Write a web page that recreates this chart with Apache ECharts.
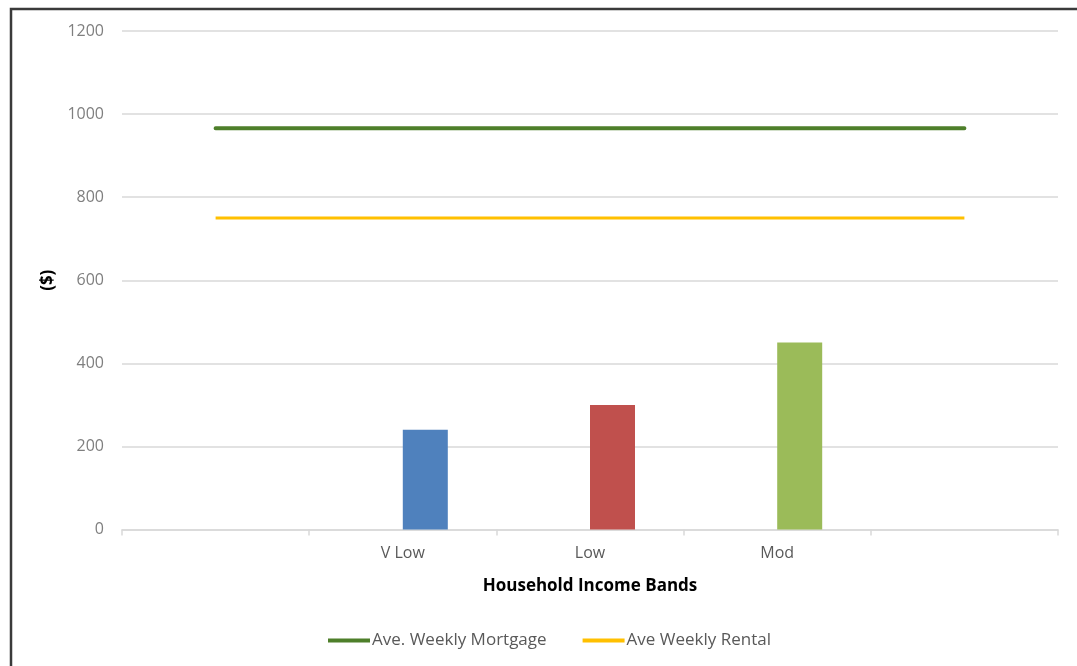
<!DOCTYPE html>
<html>
<head>
<meta charset="utf-8">
<script src="https://cdn.jsdelivr.net/npm/echarts@6/dist/echarts.min.js"></script>
<style>
html,body{margin:0;padding:0;background:#fff;}
#chart{width:1077px;height:666px;}
</style>
</head>
<body>
<div id="chart"></div>
<script>
const categories = ['', 'V Low', 'Low', 'Mod', ''];
const incomeValues = [null, 240, 300, 450, null];
const barColors = ['#4F81BD', '#4F81BD', '#C0504D', '#9BBB59', '#9BBB59'];
const mortgageValues = [966, 966, 966, 966, 966];
const rentalValues = [750, 750, 750, 750, 750];
const yTicks = { min: 0, max: 1200, interval: 200 };

const chart = echarts.init(document.getElementById('chart'));
const font = '"Open Sans", "Liberation Sans", sans-serif';

chart.setOption({
  backgroundColor: '#ffffff',
  animation: false,
  textStyle: { fontFamily: font },
  graphic: [{
    type: 'rect',
    shape: { x: 11, y: 9, width: 1200, height: 800 },
    style: { fill: 'none', stroke: '#3a3a3a', lineWidth: 2.5 },
    silent: true
  }],
  grid: { left: 122, right: 19, top: 31, bottom: 136.5, containLabel: false },
  legend: {
    data: ['Ave. Weekly Mortgage', 'Ave Weekly Rental'],
    left: 323,
    top: 627,
    icon: 'rect',
    itemWidth: 42,
    itemHeight: 4,
    itemGap: 36,
    textStyle: { color: '#595959', fontSize: 17, fontFamily: font, padding: [0, 0, 0, -3] }
  },
  xAxis: {
    type: 'category',
    data: categories,
    boundaryGap: true,
    axisLine: { lineStyle: { color: '#d9d9d9', width: 1.5 } },
    axisTick: { show: true, length: 6, interval: 0, lineStyle: { color: '#d9d9d9', width: 1.5 } },
    axisLabel: { color: '#595959', fontSize: 16, margin: 16, interval: 0, fontFamily: font },
    name: 'Household Income Bands',
    nameLocation: 'middle',
    nameGap: 48,
    nameTextStyle: { color: '#000', fontWeight: 'bold', fontSize: 17, fontFamily: font }
  },
  yAxis: {
    type: 'value',
    min: yTicks.min,
    max: yTicks.max,
    interval: yTicks.interval,
    axisLine: { show: false },
    axisTick: { show: false },
    splitLine: { lineStyle: { color: '#d9d9d9', width: 1.5 } },
    axisLabel: { color: '#7f7f7f', fontSize: 16, margin: 18, fontFamily: font, formatter: (v) => String(v) },
    name: '($)',
    nameLocation: 'middle',
    nameRotate: 90,
    nameGap: 62,
    nameTextStyle: { color: '#000', fontWeight: 'bold', fontSize: 17, fontFamily: font }
  },
  series: [
    {
      name: 'blank',
      type: 'bar',
      data: categories.map(() => null),
      barWidth: 45,
      barGap: '0%'
    },
    {
      name: 'Income',
      type: 'bar',
      barWidth: 45,
      barGap: '0%',
      data: incomeValues.map((v, i) => ({ value: v, itemStyle: { color: barColors[i] } }))
    },
    {
      name: 'Ave. Weekly Mortgage',
      type: 'line',
      data: mortgageValues,
      showSymbol: false,
      symbol: 'none',
      color: '#4E7F2A',
      lineStyle: { color: '#4E7F2A', width: 4, cap: 'round' }
    },
    {
      name: 'Ave Weekly Rental',
      type: 'line',
      data: rentalValues,
      showSymbol: false,
      symbol: 'none',
      color: '#FFC000',
      lineStyle: { color: '#FFC000', width: 3 }
    }
  ]
});
</script>
</body>
</html>
